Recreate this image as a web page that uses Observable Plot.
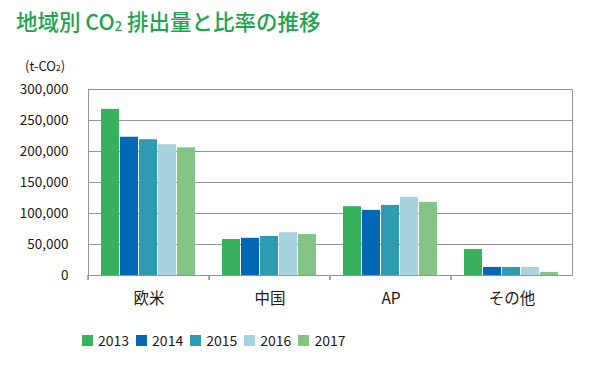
<!DOCTYPE html>
<html><head><meta charset="utf-8">
<script src="https://cdn.jsdelivr.net/npm/d3@7"></script>
<script src="https://cdn.jsdelivr.net/npm/@observablehq/plot@0.6"></script>
<style>
body{margin:0;background:#fff;}
#wrap{position:relative;width:603px;height:368px;font-family:"Noto Sans CJK JP","Noto Sans",sans-serif;overflow:hidden;}
#title{position:absolute;left:16px;top:8px;font-size:21.5px;color:#1fa34d;font-weight:500;white-space:nowrap;line-height:1.2;}
#title sub{font-size:0.6em;vertical-align:baseline;position:relative;top:0.05em;}
#unit{position:absolute;left:25px;top:58px;font-size:13px;color:#231815;white-space:nowrap;line-height:1.2;}
#unit sub{font-size:0.65em;vertical-align:baseline;}
#chart{position:absolute;left:0;top:70px;}
#legend{position:absolute;left:82px;top:332px;display:flex;font-size:14px;color:#231815;line-height:1.2;}
.item{display:inline-flex;align-items:center;margin-right:7px;}
.sw{width:11px;height:11px;margin-right:5px;display:inline-block;}
</style></head>
<body>
<div id="wrap">
  <div id="title">地域別 CO<sub>2</sub> 排出量と比率の推移</div>
  <div id="unit">(t-CO<sub>2</sub>)</div>
  <div id="chart"></div>
  <div id="legend"></div>
</div>
<script>
const regions = ["欧米", "中国", "AP", "その他"];
const years = ["2013", "2014", "2015", "2016", "2017"];
const colors = ["#37b15c", "#0068b6", "#2d9bb1", "#a6d3dd", "#84c587"];
const v2013 = [268000, 58000, 111000, 42000];
const v2014 = [223000, 60000, 105000, 13000];
const v2015 = [219000, 63000, 113000, 13000];
const v2016 = [211000, 69000, 126000, 13000];
const v2017 = [206000, 66000, 118000, 5000];
const yTicks = [0, 50000, 100000, 150000, 200000, 250000, 300000];

const series = [v2013, v2014, v2015, v2016, v2017];
const rows = [];
regions.forEach((r, i) => years.forEach((y, j) => rows.push({region: r, year: y, value: series[j][i]})));

const W = 603, ML = 86, MR = 30;
const facetW = (W - ML - MR) / regions.length;
const grid = "#969696";

const chart = Plot.plot({
  width: W, height: 245,
  marginLeft: ML, marginRight: MR, marginTop: 19, marginBottom: 40,
  style: {fontFamily: '"Noto Sans CJK JP","Noto Sans",sans-serif', background: "transparent", color: "#231815", overflow: "visible"},
  fx: {domain: regions, padding: 0, label: null},
  x: {domain: years, paddingInner: 0.05, paddingOuter: 0.55, axis: null},
  y: {domain: [0, 300000], label: null},
  color: {domain: years, range: colors},
  marks: [
    Plot.ruleY(yTicks, {stroke: grid, strokeWidth: 1}),
    Plot.barY(rows, {fx: "region", x: "year", y: "value", fill: "year"}),
    Plot.frame({anchor: "left", facetAnchor: "left", stroke: grid}),
    Plot.frame({anchor: "right", facetAnchor: "right", stroke: grid}),
    Plot.ruleY([0], {stroke: grid}),
    Plot.axisY(yTicks, {tickSize: 0, tickPadding: 20, tickFormat: d3.format(","), fontSize: 13.5, fill: "#231815", label: null}),
    Plot.axisFx({anchor: "bottom", tickSize: 0, tickPadding: 17, fontSize: 15.5, fill: "#231815", label: null}),
    Plot.axisFx(regions.slice(1), {anchor: "bottom", tickSize: 5, tickFormat: () => "", dx: -facetW / 2, stroke: grid, label: null})
  ]
});
document.getElementById("chart").appendChild(chart);

const legend = d3.select("#legend");
years.forEach((y, i) => {
  const it = legend.append("span").attr("class", "item");
  it.append("span").attr("class", "sw").style("background", colors[i]);
  it.append("span").text(y);
});
</script>
</body></html>
